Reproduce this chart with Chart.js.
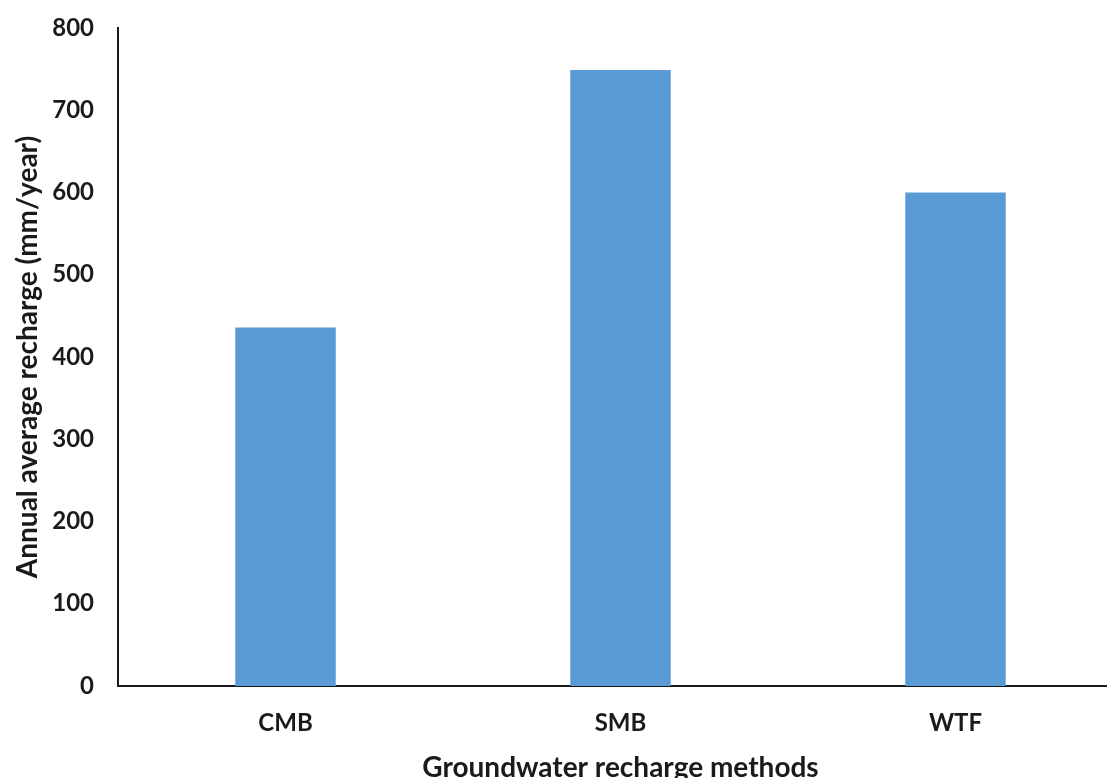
<!DOCTYPE html>
<html>
  <head>
    <title>Groundwater recharge methods</title>
    <script src="https://cdn.jsdelivr.net/npm/chart.js"></script>
    <style>
      html, body {
        margin: 0;
        padding: 0;
        background-color: #ffffff;
        overflow: hidden;
      }
      .chart-container {
        position: relative;
        width: 1123px;
        height: 778px;
      }
    </style>
  </head>
  <body>
    <div class="chart-container">
      <canvas id="myChart"></canvas>
    </div>

    <script>
      // values
      var methods = ["CMB", "SMB", "WTF"];
      var recharge = [436, 749, 600];
      var yTicks = [0, 100, 200, 300, 400, 500, 600, 700, 800];

      var fontFamily = "Lato, 'Open Sans', sans-serif";
      var textColor = "#1a1a1a";

      var ctx = document.getElementById("myChart").getContext("2d");
      var myChart = new Chart(ctx, {
        type: "bar",
        data: {
          labels: methods,
          datasets: [{
            label: "Annual average recharge",
            data: recharge,
            backgroundColor: "#5b9bd5",
            borderWidth: 0,
            barPercentage: 0.3,
            categoryPercentage: 1.0,
          }],
        },
        options: {
          responsive: true,
          maintainAspectRatio: false,
          animation: false,
          layout: {
            padding: { top: 28, right: 0, bottom: 0, left: 0 },
          },
          plugins: {
            legend: { display: false },
            tooltip: { enabled: false },
          },
          scales: {
            x: {
              grid: { display: false, drawTicks: false },
              border: { display: true, color: "#1a1a1a", width: 2 },
              ticks: {
                color: textColor,
                padding: 23,
                font: { family: fontFamily, size: 24, weight: "bold" },
              },
              title: {
                display: true,
                text: "Groundwater recharge methods",
                color: textColor,
                padding: { top: 0, bottom: -4 },
                font: { family: fontFamily, size: 28, weight: "bold", lineHeight: 1.0 },
              },
              afterFit: function (scale) {
                scale.height = 92;
                scale.paddingLeft = 0;
                scale.paddingRight = 0;
              },
            },
            y: {
              min: 0,
              max: 800,
              grid: { display: false, drawTicks: false },
              border: { display: true, color: "#1a1a1a", width: 2 },
              afterBuildTicks: function (scale) {
                scale.ticks = yTicks.map(function (v) { return { value: v }; });
              },
              ticks: {
                color: textColor,
                padding: 24,
                font: { family: fontFamily, size: 24, weight: "bold" },
              },
              title: {
                display: true,
                text: "Annual average recharge (mm/year)",
                color: textColor,
                padding: { top: 14, bottom: 0 },
                font: { family: fontFamily, size: 28, weight: "bold", lineHeight: 1.0 },
              },
              afterFit: function (scale) {
                scale.width = 118;
                scale.paddingTop = 0;
                scale.paddingBottom = 0;
              },
            },
          },
        },
      });
    </script>
  </body>
</html>
